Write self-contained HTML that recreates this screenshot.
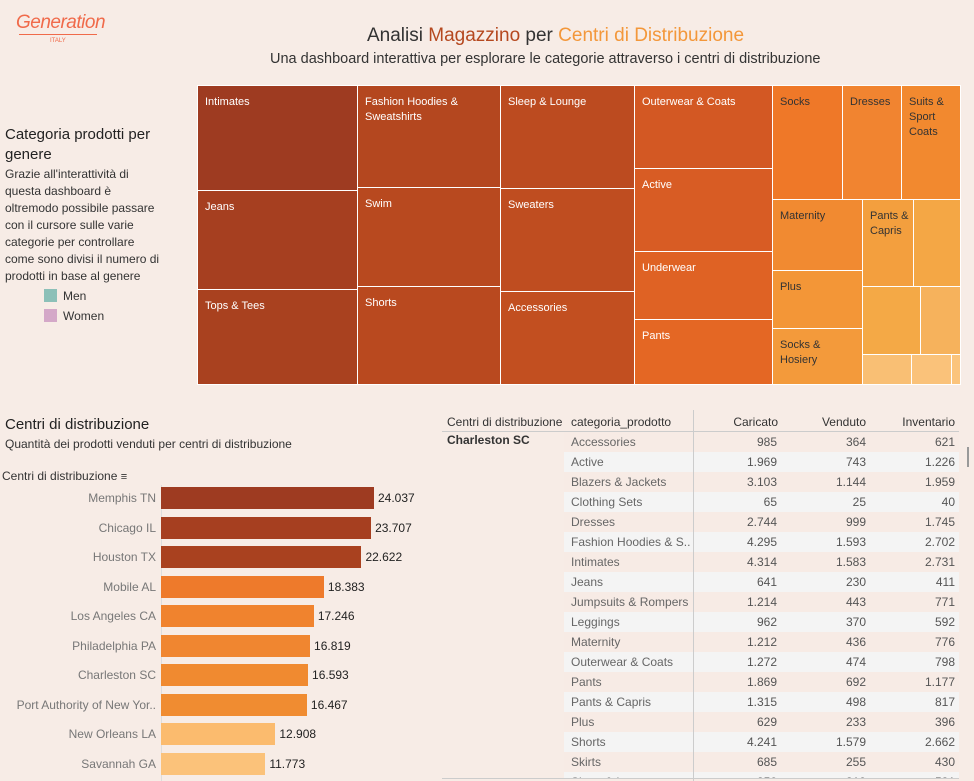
<!DOCTYPE html>
<html><head><meta charset="utf-8">
<style>
body{margin:0;width:974px;height:781px;overflow:hidden;background:#f7ece6;font-family:"Liberation Sans","DejaVu Sans",sans-serif;position:relative;color:#333}
.abs{position:absolute}
.tm{position:absolute;box-sizing:border-box;border:1px solid #fff;font-size:11px;color:#fff;padding:9px 7px;line-height:15px;overflow:hidden}
.tm.d{color:#333}
.row{position:absolute;left:564px;width:395px;height:20px;font-size:12px;color:#666}
.row span{position:absolute;top:3px}
</style></head><body>
<div class="abs" style="left:16px;top:12px;font-family:'Liberation Sans',sans-serif;font-style:italic;color:#f06a4a;font-size:19px;letter-spacing:-0.5px">Generation</div>
<div class="abs" style="left:19px;top:34px;width:78px;height:1px;background:#f06a4a"></div>
<div class="abs" style="left:50px;top:38px;font-size:6px;color:#f06a4a">ITALY</div>
<div class="abs" style="left:367px;top:25px;font-size:19px;color:#333">Analisi <span style="color:#b5481f">Magazzino</span> per <span style="color:#f3973a">Centri di Distribuzione</span></div>
<div class="abs" style="left:270px;top:51px;font-size:14.5px;color:#333">Una dashboard interattiva per esplorare le categorie attraverso i centri di distribuzione</div>

<div class="abs" style="left:5px;top:125px;font-size:15px;line-height:20px;color:#222;width:180px">Categoria prodotti per genere</div>
<div class="abs" style="left:5px;top:166px;font-size:12px;line-height:17px;color:#333;width:162px">Grazie all'interattività di questa dashboard è oltremodo possibile passare con il cursore sulle varie categorie per controllare come sono divisi il numero di prodotti in base al genere</div>
<div class="abs" style="left:44px;top:289px;font-size:12px"><span style="display:inline-block;width:13px;height:13px;background:#8cc0b8;vertical-align:-2px;margin-right:6px"></span>Men</div>
<div class="abs" style="left:44px;top:309px;font-size:12px"><span style="display:inline-block;width:13px;height:13px;background:#d4a8c8;vertical-align:-2px;margin-right:6px"></span>Women</div>

<div id="treemap"></div>

<div class="abs" style="left:5px;top:416px;font-size:15px;color:#222">Centri di distribuzione</div>
<div class="abs" style="left:5px;top:437px;font-size:12px;color:#333">Quantità dei prodotti venduti per centri di distribuzione</div>
<div class="abs" style="left:2px;top:469px;font-size:12px;color:#333">Centri di distribuzione <span style="font-size:11px">&#8801;</span></div>
<div class="abs" style="left:161px;top:485px;width:1px;height:296px;background:#ddd"></div>
<div id="bars"></div>

<div class="abs" style="left:442px;top:410px;width:517px;height:21px;border-bottom:1px solid #ccc;font-size:12px;color:#333">
<span class="abs" style="left:5px;top:5px">Centri di distribuzione</span>
<span class="abs" style="left:129px;top:5px">categoria_prodotto</span>
<span class="abs" style="right:181px;top:5px">Caricato</span>
<span class="abs" style="right:93px;top:5px">Venduto</span>
<span class="abs" style="right:4px;top:5px">Inventario</span></div>
<div class="abs" style="left:447px;top:433px;font-size:12px;color:#333;font-weight:bold">Charleston SC</div>
<div id="table"></div>
<div class="abs" style="left:693px;top:410px;width:1px;height:371px;background:#ccc"></div>
<div class="abs" style="left:967px;top:447px;width:2px;height:20px;background:#999"></div>
<div class="abs" style="left:442px;top:778px;width:517px;height:1px;background:#ccc"></div>

<script>
const tmNames=["Intimates","Jeans","Tops & Tees","Fashion Hoodies & Sweatshirts","Swim","Shorts","Sleep & Lounge","Sweaters","Accessories","Outerwear & Coats","Active","Underwear","Pants","Socks","Dresses","Suits & Sport Coats","Maternity","Plus","Socks & Hosiery","Pants & Capris","","","","","",""];
const tmRects=[[197,85,160,105],[197,190,160,99],[197,289,160,95],[357,85,143,102],[357,187,143,99],[357,286,143,98],[500,85,134,103],[500,188,134,103],[500,291,134,93],[634,85,138,83],[634,168,138,83],[634,251,138,68],[634,319,138,65],[772,85,70,114],[842,85,59,114],[901,85,59,114],[772,199,90,71],[772,270,90,58],[772,328,90,56],[862,199,51,87],[913,199,47,87],[862,286,58,68],[920,286,40,68],[862,354,49,30],[911,354,40,30],[951,354,9,30]];
const tmColors=["#9e3b21","#a63f20","#a9411f","#b4471f","#b8491f","#b9491f","#bc4b20","#bf4d20","#c24f20","#d35823","#d85c24","#df6224","#e46724","#ef7828","#f18430","#f2892f","#f18a31","#f39637","#f39a3b","#f39f3e","#f4a745","#f4a946","#f6b25c","#f9bf74","#fac27a","#fbc47c"];
const tm=document.getElementById('treemap');
tmRects.forEach((r,i)=>{const d=document.createElement('div');


d.className='tm'+(i>=13?' d':'');d.style.left=r[0]+'px';d.style.top=r[1]+'px';d.style.width=(r[2]+1)+'px';d.style.height=(r[3]+1)+'px';d.style.background=tmColors[i];d.textContent=tmNames[i];
if(!tmNames[i])d.style.padding='0';
if(i==19)d.style.width='52px';
if(i==19||i==15)d.style.paddingRight='3px';tm.appendChild(d);});

const centers=["Memphis TN","Chicago IL","Houston TX","Mobile AL","Los Angeles CA","Philadelphia PA","Charleston SC","Port Authority of New Yor..","New Orleans LA","Savannah GA"];
const sold=[24037,23707,22622,18383,17246,16819,16593,16467,12908,11773];
const barColors=["#9e3b21","#a63f20","#a9411f","#ee7a2b","#f0832e","#f08630","#f08a30","#f08c31","#fbbb6e","#fbc27a"];
const x0=161,scale=213/24037,y0=487,step=29.5,bh=22;
const bars=document.getElementById('bars');
sold.forEach((v,i)=>{const y=y0+i*step,w=v*scale;
const b=document.createElement('div');


b.className='abs';b.style.cssText=`left:${x0}px;top:${y}px;width:${w}px;height:${bh}px;background:${barColors[i]}`;bars.appendChild(b);
const l=document.createElement('div');


l.className='abs';l.style.cssText=`right:${974-156}px;top:${y+4}px;font-size:12px;color:#777;white-space:nowrap`;l.textContent=centers[i];bars.appendChild(l);
const t=document.createElement('div');


t.className='abs';t.style.cssText=`left:${x0+w+4}px;top:${y+4}px;font-size:12px;color:#222`;t.textContent=v.toLocaleString('de-DE');bars.appendChild(t);});

const cats=["Accessories","Active","Blazers & Jackets","Clothing Sets","Dresses","Fashion Hoodies & S..","Intimates","Jeans","Jumpsuits & Rompers","Leggings","Maternity","Outerwear & Coats","Pants","Pants & Capris","Plus","Shorts","Skirts","Sleep & Lounge"];
const caricato=[985,1969,3103,65,2744,4295,4314,641,1214,962,1212,1272,1869,1315,629,4241,685,850];
const venduto=[364,743,1144,25,999,1593,1583,230,443,370,436,474,692,498,233,1579,255,319];
const inventario=[621,1226,1959,40,1745,2702,2731,411,771,592,776,798,1177,817,396,2662,430,531];
const tb=document.getElementById('table');
cats.forEach((c,i)=>{const y=432+i*20;if(y>778)return;
const r=document.createElement('div');


r.className='row';r.style.top=y+'px';r.style.height=Math.min(20,778-y)+'px';r.style.overflow='hidden';r.style.background=i%2?'#f4f4f4':'#f7ebe5';
const f=n=>n.toLocaleString('de-DE');
r.innerHTML=`<span style="left:7px">${c}</span><span style="right:182px;color:#555">${f(caricato[i])}</span><span style="right:93px;color:#555">${f(venduto[i])}</span><span style="right:4px;color:#555">${f(inventario[i])}</span>`;
tb.appendChild(r);});
</script>
</body></html>
